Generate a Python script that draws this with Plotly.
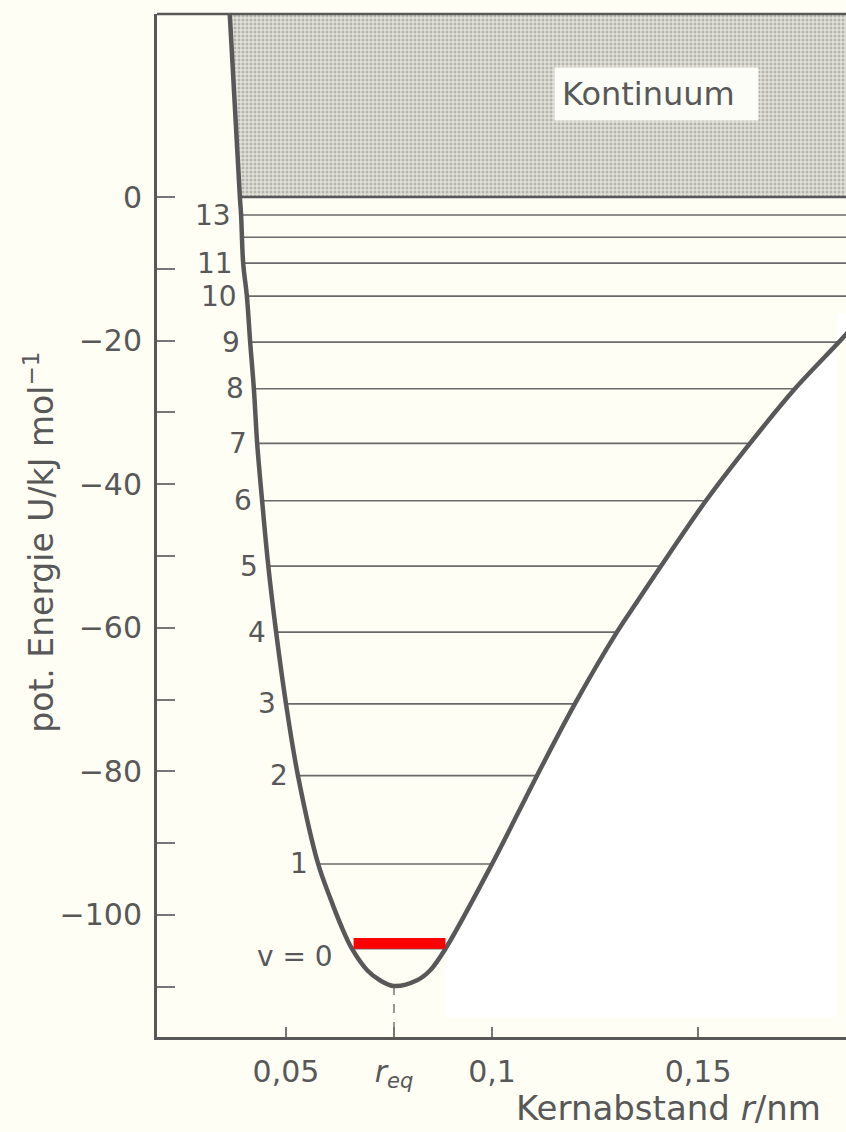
import numpy as np
import plotly.graph_objects as go

# ---------------- data ----------------
# potential curve, left (repulsive) branch: r in nm, U in kJ/mol
curve_left_r = [0.0362, 0.0388, 0.0391, 0.0396, 0.0405, 0.0413, 0.0422, 0.0430, 0.0442,
                0.0457, 0.0476, 0.0500, 0.0529, 0.0578, 0.0609, 0.0633, 0.0660, 0.0697,
                0.0728, 0.0762]
curve_left_U = [27.0, 0.0, -2.5, -9.2, -13.8, -20.2, -26.7, -34.3, -42.3,
                -51.4, -60.6, -70.6, -80.6, -92.9, -97.9, -101.4, -104.7, -107.7,
                -109.1, -109.9]
# right (attractive) branch
curve_right_r = [0.0762, 0.0818, 0.0850, 0.0887, 0.1000, 0.1109, 0.1201, 0.1303, 0.1354,
                 0.1410, 0.1519, 0.1626, 0.1735, 0.1864, 0.1900]
curve_right_U = [-109.9, -109.1, -107.7, -104.7, -92.9, -80.6, -70.6, -60.6, -56.2,
                 -51.4, -42.3, -34.3, -26.7, -18.8, -16.2]

# vibrational levels
level_v = list(range(14))
level_E = [-104.7, -92.9, -80.6, -70.6, -60.6, -51.4, -42.3, -34.3, -26.7, -20.2,
           -13.8, -9.2, -5.6, -2.5]
level_labels = ["v = 0", "1", "2", "3", "4", "5", "6", "7", "8", "9", "10", "11", "", "13"]

continuum_E = 0.0
r_eq = 0.0762
U_min = -109.9

y_tick_vals = [-100, -80, -60, -40, -20, 0]
y_tick_text = ["\u2212100", "\u221280", "\u221260", "\u221240", "\u221220", "0"]
y_minor_vals = [-110, -90, -70, -50, -30, -10]
x_tick_vals = [0.05, r_eq, 0.1, 0.15]
x_tick_text = ["0,05", "<i>r</i><sub><i>eq</i></sub>", "0,1", "0,15"]

# ---------------- layout constants ----------------
X_RANGE = [0.01869, 0.1859]
Y_RANGE = [-117.0, 25.5]
X_FAR = 0.195
INK = "#585858"
CREAM = "#fefef4"
FONT = "DejaVu Sans"

lr = np.array(curve_left_r); lU = np.array(curve_left_U)
rr = np.array(curve_right_r); rU = np.array(curve_right_U)

def left_at(E):
    return float(np.interp(E, lU[::-1], lr[::-1]))

def right_at(E):
    if E >= rU[-2]:
        return X_FAR
    return float(np.interp(E, rU, rr))

fig = go.Figure()

# white area right of the potential curve (scan artefact)
E0 = level_E[0]
mask = rU >= E0
wx = [right_at(E0)] + list(rr[mask]) + [0.1837, 0.1837, right_at(E0)]
wy = [E0] + list(rU[mask]) + [rU[-1], -114.2, -114.2]
fig.add_trace(go.Scatter(x=wx, y=wy, fill="toself", fillcolor="white",
                         line=dict(width=0), mode="lines", hoverinfo="skip"))

# continuum (stippled)
cx = [left_at(continuum_E), lr[0], X_FAR, X_FAR]
cy = [continuum_E, lU[0], lU[0], continuum_E]
fig.add_trace(go.Scatter(x=cx, y=cy, fill="toself", mode="lines", line=dict(width=0),
                         fillpattern=dict(shape=".", fgcolor="#85857f", bgcolor="#e2e2da",
                                          size=4, solidity=0.45),
                         hoverinfo="skip"))
fig.add_trace(go.Scatter(x=[left_at(continuum_E), X_FAR], y=[continuum_E, continuum_E],
                         mode="lines", line=dict(color=INK, width=2.5), hoverinfo="skip"))

# vibrational level lines
lx, ly = [], []
for E in level_E:
    lx += [left_at(E), right_at(E), None]
    ly += [E, E, None]
fig.add_trace(go.Scatter(x=lx, y=ly, mode="lines", line=dict(color="#6a6a6a", width=1.7),
                         hoverinfo="skip"))

# r_eq dashed drop line
fig.add_trace(go.Scatter(x=[r_eq, r_eq], y=[U_min, Y_RANGE[0]], mode="lines",
                         line=dict(color="#777", width=1.5, dash="dash"), hoverinfo="skip"))

# potential curve
fig.add_trace(go.Scatter(x=list(lr) + list(rr[1:]), y=list(lU) + list(rU[1:]), mode="lines",
                         line=dict(color=INK, width=4.5, shape="spline", smoothing=1.0),
                         hoverinfo="skip"))

# red marker bar on v = 0
fig.add_shape(type="rect", x0=left_at(E0) + 0.0004, x1=right_at(E0), y0=E0, y1=E0 + 1.5,
              fillcolor="#ff0000", line=dict(width=0), layer="above")

# level labels
for E, lab in zip(level_E, level_labels):
    if not lab:
        continue
    is0 = lab.startswith("v")
    fig.add_annotation(x=left_at(E), y=E, text=lab, showarrow=False, xanchor="right",
                       yanchor="middle", xshift=-17 if is0 else -8,
                       yshift=-8 if is0 else 0,
                       font=dict(family=FONT, size=28, color=INK))

# Kontinuum label
fig.add_annotation(xref="paper", yref="paper", x=0.725, y=0.922, xanchor="center",
                   yanchor="middle", text="Kontinuum\u2002",
                   showarrow=False, bgcolor="#fdfdf7", borderpad=7,
                   font=dict(family=FONT, size=32, color=INK))

# axis titles
fig.add_annotation(xref="paper", yref="paper", x=0.967, y=-0.069, xanchor="right",
                   yanchor="middle", text="Kernabstand <i>r</i>/nm", showarrow=False,
                   font=dict(family=FONT, size=34, color=INK))
fig.add_annotation(xref="paper", yref="paper", x=-0.170, y=0.484, xanchor="center",
                   yanchor="middle", textangle=-90,
                   text="pot. Energie U/kJ mol<sup>\u22121</sup>", showarrow=False,
                   font=dict(family=FONT, size=33, color=INK))

# top border
fig.add_shape(type="line", xref="paper", yref="paper", x0=0, x1=1, y0=1, y1=1,
              line=dict(color=INK, width=2.5))

fig.update_layout(
    width=846, height=1132,
    margin=dict(l=157, r=0, t=14, b=95),
    paper_bgcolor=CREAM, plot_bgcolor=CREAM,
    showlegend=False,
    xaxis=dict(range=X_RANGE, showgrid=False, zeroline=False, showline=True,
               linecolor=INK, linewidth=2.5, ticks="inside", ticklen=10, tickwidth=1.5,
               tickcolor="#777", tickvals=x_tick_vals, ticktext=x_tick_text,
               tickfont=dict(family=FONT, size=30, color=INK), ticklabelstandoff=6),
    yaxis=dict(range=Y_RANGE, showgrid=False, zeroline=False, showline=True,
               linecolor=INK, linewidth=3, ticks="inside", ticklen=18, tickwidth=1.5,
               tickcolor="#777", tickvals=y_tick_vals, ticktext=y_tick_text,
               minor=dict(tickmode="array", tickvals=y_minor_vals, ticks="inside",
                          ticklen=18, tickwidth=1.5, tickcolor="#777"),
               tickfont=dict(family=FONT, size=30, color=INK), ticklabelstandoff=6),
)

fig.write_html("out.html")
